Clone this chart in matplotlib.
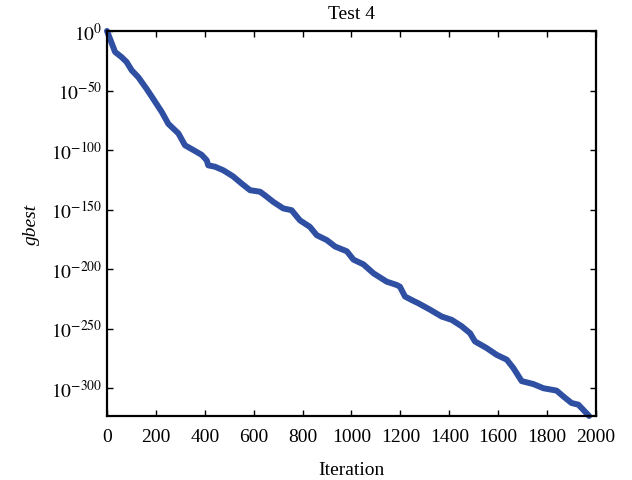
import matplotlib
matplotlib.use("Agg")
import matplotlib.pyplot as plt
from matplotlib.ticker import FuncFormatter

# iteration vs log10(gbest)
iteration = [0, 15, 33, 60, 80, 101, 128, 162, 189, 224, 251, 292, 319, 367,
             387, 408, 414, 442, 476, 515, 550, 585, 626, 646, 680, 721, 755,
             789, 830, 858, 899, 933, 981, 1008, 1049, 1090, 1144, 1185, 1198,
             1219, 1246, 1273, 1321, 1369, 1410, 1451, 1485, 1505, 1553, 1594,
             1635, 1662, 1696, 1744, 1785, 1839, 1866, 1900, 1928, 1972]
log_gbest = [0, -8, -17.6, -22, -26, -33, -38.8, -48.6, -57, -68, -78, -86,
             -96, -101.6, -104, -108.6, -112.8, -114, -117, -122, -128, -133.7,
             -135, -138, -143.5, -149, -150.5, -159, -164.5, -171.5, -175.6,
             -181, -185, -192, -196, -203.5, -210.5, -213.3, -214.7, -223,
             -225.9, -228.6, -234, -239.8, -242.6, -248, -253.8, -260.7,
             -266.3, -272, -276, -283, -294, -296.5, -300, -302, -306.8,
             -312.4, -313.8, -323.3]
yticks = [0, -50, -100, -150, -200, -250, -300]
xticks = [0, 200, 400, 600, 800, 1000, 1200, 1400, 1600, 1800, 2000]

plt.rcParams['font.family'] = 'Liberation Serif'
plt.rcParams['mathtext.fontset'] = 'stix'
plt.rcParams['font.size'] = 14

fig = plt.figure(figsize=(6.32, 4.81), dpi=100)
ax = fig.add_axes([0.1693, 0.1331, 0.7737, 0.8004])

ax.plot(iteration, log_gbest, color='#2e4fa2', lw=4.3, solid_capstyle='round',
        solid_joinstyle='round', clip_on=False)

ax.set_xlim(0, 2000)
ax.set_ylim(-323.3, 0)
ax.set_xticks(xticks)
ax.set_yticks(yticks)
ax.yaxis.set_major_formatter(FuncFormatter(lambda v, p: r'$10^{%d}$' % round(v)))
ax.tick_params(direction='in', top=True, right=True, length=4, width=1,
               labelsize=14)
ax.tick_params(axis='x', pad=9)
for s in ax.spines.values():
    s.set_linewidth(1.6)

ax.set_title('Test 4', fontsize=14, pad=9)
ax.set_xlabel('Iteration', fontsize=14, labelpad=11)
ax.set_ylabel('gbest', fontstyle='italic', fontsize=14, labelpad=8)

fig.savefig('out.png', dpi=100)
